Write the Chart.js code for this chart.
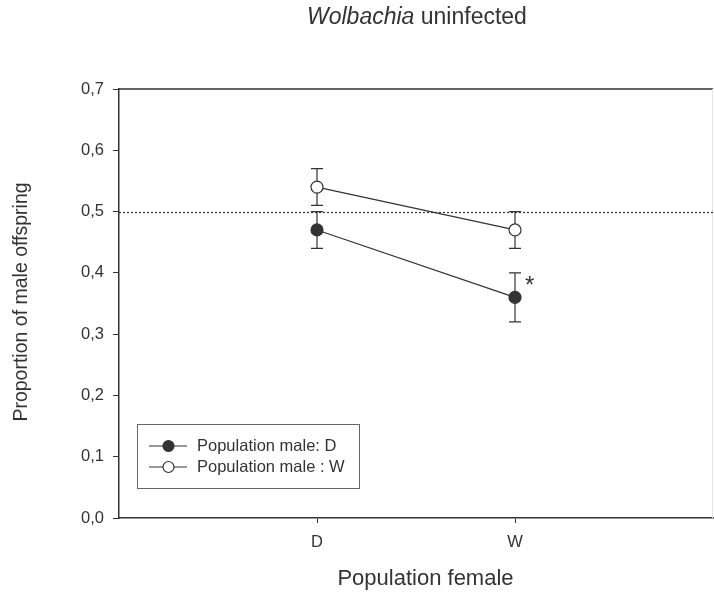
<!DOCTYPE html>
<html>
<head>
<meta charset="utf-8">
<script src="https://cdn.jsdelivr.net/npm/chart.js@4/dist/chart.umd.min.js"></script>
<style>
  html, body { margin: 0; padding: 0; background: #fff; }
  #wrap { width: 714px; height: 598px; }
</style>
</head>
<body>
<div id="wrap"><canvas id="c" width="714" height="598"></canvas></div>
<script>
// Female population categories on the x axis (positions 1, 2)
const categories = ['D', 'W'];
const categoryPos = [1, 2];

// Male population D (filled circles)
const maleD = [0.47, 0.36];
const maleDLow = [0.44, 0.32];
const maleDHigh = [0.50, 0.40];

// Male population W (open circles)
const maleW = [0.54, 0.47];
const maleWLow = [0.51, 0.44];
const maleWHigh = [0.57, 0.50];

// Reference line for an even sex ratio
const evenRatio = 0.5;

// Y axis tick values
const yTicks = [0, 0.1, 0.2, 0.3, 0.4, 0.5, 0.6, 0.7];

// Significance marker: series index 0 (male D) at category W
const sigMarks = [{ series: 0, index: 1, text: '*' }];

const INK = '#333333';
const FONT = '"Liberation Sans", Arial, sans-serif';

const datasets = [
  {
    label: 'Population male: D',
    data: categoryPos.map((x, i) => ({ x, y: maleD[i] })),
    low: maleDLow, high: maleDHigh,
    showLine: true,
    borderColor: INK, borderWidth: 1.2,
    pointBackgroundColor: INK, pointBorderColor: INK,
    pointRadius: 6, pointBorderWidth: 1.2
  },
  {
    label: 'Population male : W',
    data: categoryPos.map((x, i) => ({ x, y: maleW[i] })),
    low: maleWLow, high: maleWHigh,
    showLine: true,
    borderColor: INK, borderWidth: 1.2,
    pointBackgroundColor: '#ffffff', pointBorderColor: INK,
    pointRadius: 6, pointBorderWidth: 1.2
  }
];

// Dotted 0.5 line, error bars, frame, legend and texts
const decorations = {
  id: 'decorations',
  beforeDatasetsDraw(chart) {
    const ctx = chart.ctx, xs = chart.scales.x, ys = chart.scales.y, a = chart.chartArea;
    ctx.save();
    // frame: top dark, right faint
    ctx.strokeStyle = INK; ctx.lineWidth = 1.5;
    ctx.beginPath(); ctx.moveTo(a.left, a.top); ctx.lineTo(a.right, a.top); ctx.stroke();
    ctx.strokeStyle = '#e6e6e6'; ctx.lineWidth = 1;
    ctx.beginPath(); ctx.moveTo(a.right - 0.5, a.top); ctx.lineTo(a.right - 0.5, a.bottom); ctx.stroke();
    // dotted reference line
    const yr = Math.round(ys.getPixelForValue(evenRatio)) + 0.5;
    ctx.strokeStyle = INK; ctx.lineWidth = 1.2; ctx.setLineDash([2, 2]);
    ctx.beginPath(); ctx.moveTo(a.left, yr); ctx.lineTo(a.right, yr); ctx.stroke();
    ctx.setLineDash([]);
    // error bars
    ctx.lineWidth = 1.2; ctx.strokeStyle = INK;
    chart.data.datasets.forEach(ds => {
      ds.data.forEach((p, i) => {
        const px = xs.getPixelForValue(p.x);
        const y1 = ys.getPixelForValue(ds.low[i]);
        const y2 = ys.getPixelForValue(ds.high[i]);
        ctx.beginPath();
        ctx.moveTo(px, y1); ctx.lineTo(px, y2);
        ctx.moveTo(px - 6, y1); ctx.lineTo(px + 6, y1);
        ctx.moveTo(px - 6, y2); ctx.lineTo(px + 6, y2);
        ctx.stroke();
      });
    });
    ctx.restore();
  },
  afterDraw(chart) {
    const ctx = chart.ctx, xs = chart.scales.x, ys = chart.scales.y, a = chart.chartArea;
    ctx.save();
    ctx.fillStyle = INK;
    // significance asterisk
    sigMarks.forEach(m => {
      const ds = chart.data.datasets[m.series];
      const px = xs.getPixelForValue(ds.data[m.index].x);
      const py = ys.getPixelForValue(ds.high[m.index]);
      ctx.font = '24px ' + FONT;
      ctx.textAlign = 'left'; ctx.textBaseline = 'alphabetic';
      ctx.fillText(m.text, px + 10, py + 20);
    });
    // title with italic genus name
    ctx.textBaseline = 'alphabetic';
    const italic = 'italic 23px ' + FONT, normal = '23px ' + FONT;
    ctx.font = italic; const w1 = ctx.measureText('Wolbachia').width;
    const tx = 307;
    ctx.textAlign = 'left';
    ctx.font = italic; ctx.fillText('Wolbachia', tx, 24);
    ctx.font = normal; ctx.fillText(' uninfected', tx + w1, 24);
    // axis titles
    ctx.font = '22px ' + FONT; ctx.textAlign = 'center';
    ctx.fillText('Population female', 425.5, 585);
    ctx.save();
    ctx.font = '19.5px ' + FONT;
    ctx.translate(27, 302);
    ctx.rotate(-Math.PI / 2);
    ctx.fillText('Proportion of male offspring', 0, 0);
    ctx.restore();
    // legend
    ctx.strokeStyle = '#666'; ctx.lineWidth = 1;
    ctx.strokeRect(137.5, 424.5, 222, 64);
    chart.data.datasets.forEach((ds, i) => {
      const ry = 446 + i * 21;
      ctx.strokeStyle = INK; ctx.lineWidth = 1.2;
      ctx.beginPath(); ctx.moveTo(149, ry); ctx.lineTo(187, ry); ctx.stroke();
      ctx.beginPath(); ctx.arc(168.5, ry, 5.5, 0, Math.PI * 2);
      ctx.fillStyle = ds.pointBackgroundColor; ctx.fill(); ctx.stroke();
      ctx.fillStyle = INK; ctx.font = '16.5px ' + FONT;
      ctx.textAlign = 'left'; ctx.textBaseline = 'middle';
      ctx.fillText(ds.label, 197, ry);
    });
    ctx.restore();
  }
};

new Chart(document.getElementById('c'), {
  type: 'scatter',
  data: { datasets },
  options: {
    responsive: false,
    animation: false,
    layout: { autoPadding: false, padding: { top: 89, right: 1, left: 0, bottom: 0 } },
    plugins: { legend: { display: false }, tooltip: { enabled: false } },
    scales: {
      x: {
        type: 'linear', min: 0, max: 3,
        afterBuildTicks: s => { s.ticks = categoryPos.map(v => ({ value: v })); },
        afterFit: s => { s.height = 80; s.paddingLeft = 0; s.paddingRight = 0; },
        ticks: {
          callback: v => categories[categoryPos.indexOf(v)] || '',
          color: INK, font: { family: FONT, size: 16.5 }, padding: 10, maxRotation: 0
        },
        grid: { drawOnChartArea: false, drawTicks: true, tickLength: 5, color: INK, lineWidth: 1 },
        border: { display: true, color: INK, width: 1.5 }
      },
      y: {
        type: 'linear', min: 0, max: 0.7,
        afterBuildTicks: s => { s.ticks = yTicks.map(v => ({ value: v })); },
        afterFit: s => { s.width = 119; },
        ticks: {
          callback: v => v.toFixed(1).replace('.', ','),
          color: INK, font: { family: FONT, size: 16.5 }, padding: 9
        },
        grid: { drawOnChartArea: false, drawTicks: true, tickLength: 6, color: INK, lineWidth: 1 },
        border: { display: true, color: INK, width: 1.5 }
      }
    }
  },
  plugins: [decorations]
});
</script>
</body>
</html>
